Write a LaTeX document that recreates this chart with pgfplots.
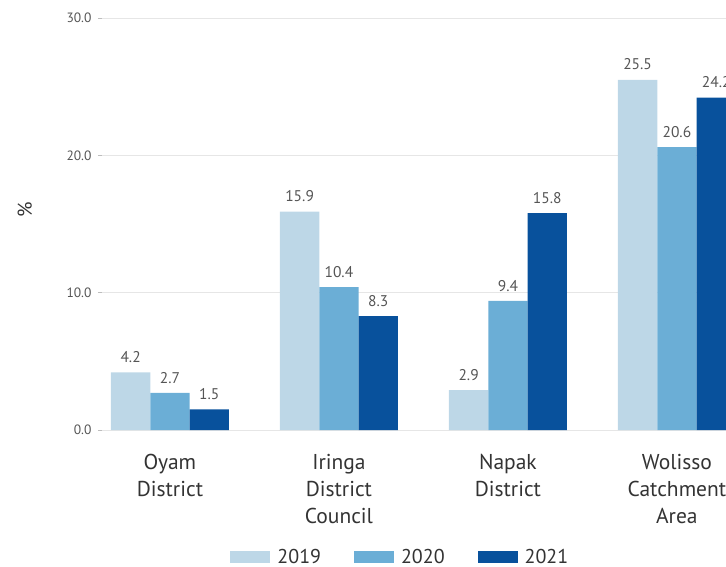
\documentclass[border=0pt]{standalone}
\usepackage{pgfplots}
\pgfplotsset{compat=1.18}
\usepackage{fontspec}
\setmainfont{PT Sans}
\definecolor{cA}{HTML}{BDD7E7}
\definecolor{cB}{HTML}{6BAED6}
\definecolor{cC}{HTML}{08519C}
\definecolor{gridc}{HTML}{E6E6E6}
\definecolor{tickc}{HTML}{555555}
\definecolor{labc}{HTML}{333333}
\pgfplotsset{legimg/.style={legend image code/.code={\fill[##1] (0pt,-6pt) rectangle (40pt,6pt);}}}
\begin{document}
\begin{tikzpicture}
\begin{scope}
\clip (-102pt,-136pt) rectangle (624pt,430pt);
\begin{axis}[
  at={(0,0)}, anchor=south west, scale only axis,
  width=659.4pt, height=412pt,
  xmin=-0.402, xmax=3.5, ymin=0, ymax=30,
  ybar=0pt, bar width=39.3pt,
  axis line style={draw=none},
  ymajorgrids, grid style={gridc, line width=0.8pt},
  ytick={0,10,20,30},
  ytick pos=left, tick align=outside, major tick length=4pt,
  ytick style={draw=gridc!60!gray, line width=0.8pt},
  xtick style={draw=none},
  xtick={0,1,2,3},
  xticklabels={Oyam\\District, Iringa\\District\\Council, Napak\\District, Wolisso\\Catchment\\Area},
  xticklabel style={align=center, font=\fontsize{21.5}{27}\selectfont, text=labc, inner sep=0pt, anchor=north, yshift=-20pt},
  /pgf/number format/.cd, fixed, fixed zerofill, precision=1, assume math mode=true, /pgfplots/.cd,
  yticklabel style={font=\fontsize{13.5}{16}\selectfont, text=tickc, xshift=-3pt},
  ylabel={\%}, ylabel style={at={(axis description cs:-0.1168,0.534)}, anchor=center, font=\fontsize{20}{22}\selectfont, text=labc},
  nodes near coords,
  nodes near coords style={font=\fontsize{15.5}{18}\selectfont, text=tickc, anchor=south, inner sep=0pt, yshift=9.5pt},
  legend columns=3,
  legend style={draw=none, at={(axis description cs:0.4525,-0.3083)}, anchor=center, font=\fontsize{20}{23}\selectfont, text=labc,
    /tikz/every odd column/.append style={column sep=5pt},
    /tikz/every even column/.append style={column sep=31pt}},
]
\addplot[fill=cA, draw=none, legimg] coordinates {(0,4.2) (1,15.9) (2,2.9) (3,25.5)};
\addplot[fill=cB, draw=none, legimg] coordinates {(0,2.7) (1,10.4) (2,9.4) (3,20.6)};
\addplot[fill=cC, draw=none, legimg] coordinates {(0,1.5) (1,8.3) (2,15.8) (3,24.2)};
\legend{2019,2020,2021}
\end{axis}
\end{scope}
\pgfresetboundingbox
\useasboundingbox (-102pt,-136pt) rectangle (624pt,430pt);
\end{tikzpicture}
\end{document}
